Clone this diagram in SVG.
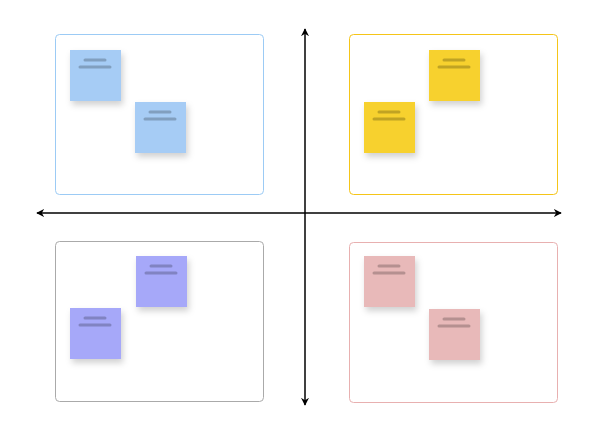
<svg xmlns="http://www.w3.org/2000/svg" width="600" height="435" viewBox="0 0 600 435">
<defs>
<filter id="sh" x="-30%" y="-30%" width="170%" height="170%"><feDropShadow dx="2" dy="4" stdDeviation="3" flood-color="#000" flood-opacity="0.18"/></filter>
<marker id="ah" viewBox="0 0 10 10" refX="9" refY="5" markerWidth="8" markerHeight="8" orient="auto-start-reverse" markerUnits="userSpaceOnUse"><path d="M0,0 L10,5 L0,10 L3,5 Z" fill="#000"/></marker>
<g id="note"><rect width="51" height="51" filter="url(#sh)"/><line x1="15" y1="10" x2="35" y2="10" class="ln"/><line x1="10" y1="17" x2="40" y2="17" class="ln"/></g>
</defs>
<style>
.q{fill:#fff;stroke-width:1}
.ln{stroke:#000;stroke-opacity:0.22;stroke-width:3;stroke-linecap:round}
</style>
<rect width="600" height="435" fill="#fff"/>
<g id="q1"><rect class="q" x="55.5" y="34.5" width="208" height="160" rx="4" stroke="#9ccbf5"/></g>
<g id="q2"><rect class="q" x="349.5" y="34.5" width="208" height="160" rx="4" stroke="#f5c518"/></g>
<g id="q3"><rect class="q" x="55.5" y="241.5" width="208" height="160" rx="4" stroke="#aaaaaa"/></g>
<g id="q4"><rect class="q" x="349.5" y="242.5" width="208" height="160" rx="4" stroke="#e8b0b0"/></g>
<g id="connectors" stroke="#000" stroke-width="1.5">
<line x1="305" y1="29" x2="305" y2="405" marker-start="url(#ah)" marker-end="url(#ah)"/>
<line x1="37" y1="213" x2="561" y2="213" marker-start="url(#ah)" marker-end="url(#ah)"/>
</g>
<g id="n1" fill="#a6ccf5"><use href="#note" x="70" y="50"/></g>
<g id="n2" fill="#a6ccf5"><use href="#note" x="135" y="102"/></g>
<g id="n3" fill="#f7d12e"><use href="#note" x="429" y="50"/></g>
<g id="n4" fill="#f7d12e"><use href="#note" x="364" y="102"/></g>
<g id="n5" fill="#a6a8f9"><use href="#note" x="136" y="256"/></g>
<g id="n6" fill="#a6a8f9"><use href="#note" x="70" y="308"/></g>
<g id="n7" fill="#e8b9b9"><use href="#note" x="364" y="256"/></g>
<g id="n8" fill="#e8b9b9"><use href="#note" x="429" y="309"/></g>
</svg>
